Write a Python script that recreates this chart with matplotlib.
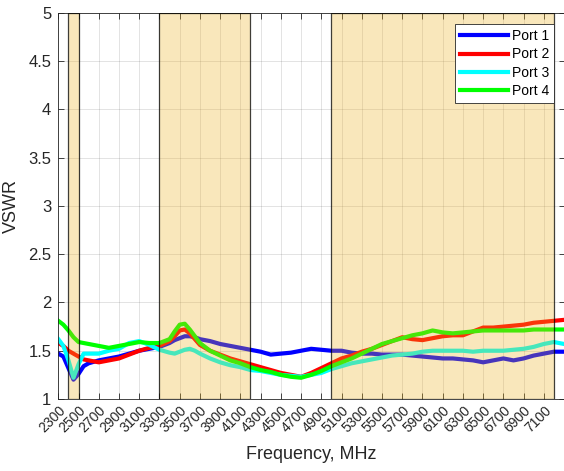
import numpy as np
import matplotlib
matplotlib.use("Agg")
import matplotlib.pyplot as plt
from matplotlib.patches import Rectangle

plt.rcParams['font.family'] = ['Liberation Sans', 'DejaVu Sans']

# frequency points, MHz
freq = [2300, 2350, 2400, 2450, 2500, 2550, 2600, 2700, 2800, 2900, 3000, 3100, 3200,
        3300, 3400, 3450, 3500, 3550, 3600, 3650, 3700, 3800, 3900, 4000, 4100, 4200,
        4300, 4400, 4500, 4600, 4700, 4800, 4900, 5000, 5100, 5200, 5300, 5400, 5500,
        5600, 5700, 5800, 5900, 6000, 6100, 6200, 6300, 6400, 6500, 6600, 6700, 6800,
        6900, 7000, 7100, 7200, 7300]

port1 = [1.47, 1.44, 1.32, 1.20, 1.26, 1.34, 1.37, 1.40, 1.42, 1.44, 1.47, 1.50, 1.52,
         1.54, 1.58, 1.61, 1.63, 1.65, 1.65, 1.64, 1.62, 1.60, 1.57, 1.55, 1.53, 1.51,
         1.49, 1.46, 1.47, 1.48, 1.50, 1.52, 1.51, 1.50, 1.50, 1.48, 1.47, 1.47, 1.46,
         1.46, 1.46, 1.45, 1.44, 1.43, 1.42, 1.42, 1.41, 1.40, 1.38, 1.40, 1.42, 1.40,
         1.42, 1.45, 1.47, 1.49, 1.49]

port2 = [1.58, 1.55, 1.50, 1.47, 1.44, 1.41, 1.40, 1.38, 1.40, 1.42, 1.46, 1.50, 1.53,
         1.55, 1.60, 1.65, 1.71, 1.72, 1.68, 1.62, 1.56, 1.50, 1.46, 1.42, 1.39, 1.36,
         1.33, 1.30, 1.27, 1.25, 1.23, 1.27, 1.32, 1.37, 1.42, 1.45, 1.49, 1.52, 1.56,
         1.60, 1.64, 1.62, 1.61, 1.63, 1.65, 1.66, 1.66, 1.70, 1.74, 1.74, 1.75, 1.76,
         1.77, 1.79, 1.80, 1.81, 1.82]

port3 = [1.62, 1.55, 1.40, 1.22, 1.36, 1.47, 1.47, 1.47, 1.50, 1.52, 1.58, 1.60, 1.56,
         1.51, 1.48, 1.47, 1.49, 1.51, 1.52, 1.50, 1.47, 1.42, 1.38, 1.35, 1.33, 1.30,
         1.29, 1.27, 1.25, 1.24, 1.23, 1.25, 1.27, 1.31, 1.34, 1.37, 1.39, 1.41, 1.43,
         1.45, 1.46, 1.47, 1.49, 1.50, 1.50, 1.50, 1.50, 1.49, 1.50, 1.50, 1.50, 1.51,
         1.52, 1.54, 1.57, 1.59, 1.57]

port4 = [1.81, 1.77, 1.71, 1.64, 1.59, 1.58, 1.57, 1.55, 1.53, 1.55, 1.57, 1.59, 1.58,
         1.58, 1.62, 1.70, 1.77, 1.78, 1.72, 1.65, 1.58, 1.50, 1.45, 1.40, 1.37, 1.33,
         1.30, 1.28, 1.25, 1.23, 1.22, 1.25, 1.29, 1.34, 1.38, 1.42, 1.47, 1.52, 1.57,
         1.60, 1.63, 1.66, 1.68, 1.71, 1.69, 1.68, 1.69, 1.70, 1.71, 1.71, 1.71, 1.71,
         1.71, 1.72, 1.72, 1.72, 1.72]

# highlighted bands, MHz
bands = [(2400, 2500), (3300, 4200), (5000, 7200)]

xticks = list(range(2300, 7101, 200))
yticks = [1, 1.5, 2, 2.5, 3, 3.5, 4, 4.5, 5]

fig = plt.figure(figsize=(5.64, 4.71), dpi=100)
# the right edge of the box sits just outside the picture, as in the source
ax = fig.add_axes([0.1034, 0.1529, 0.8985, 0.8195])

ax.plot(freq, port1, color='#0000ff', lw=3, label='Port 1')
ax.plot(freq, port2, color='#ff0000', lw=3, label='Port 2')
ax.plot(freq, port3, color='#00ffff', lw=3, label='Port 3')
ax.plot(freq, port4, color='#00ff00', lw=3, label='Port 4')

# MATLAB-style translucent patches drawn over the traces
for lo, hi in bands:
    ax.add_patch(Rectangle((lo, 1), hi - lo, 4, facecolor=(0.929, 0.694, 0.125, 0.3),
                           edgecolor=(0, 0, 0, 0.75), lw=0.9, zorder=3))

ax.set_xlim(2300, 7310)
ax.set_ylim(1, 5)
ax.set_xticks(xticks)
ax.set_xticklabels([str(x) for x in xticks], rotation=45, ha='right',
                   rotation_mode='anchor', fontsize=10)
ax.set_yticks(yticks)
ax.set_yticklabels(['1', '1.5', '2', '2.5', '3', '3.5', '4', '4.5', '5'], fontsize=12)
ax.tick_params(direction='in', top=True, right=True, colors='#262626',
               length=4, width=0.6)
ax.tick_params(axis='y', pad=5)
ax.tick_params(axis='x', pad=3)
ax.grid(True, color='#262626', alpha=0.15, lw=0.6)
for s in ax.spines.values():
    s.set_color('#262626')
    s.set_linewidth(0.6)

ax.set_xlabel('Frequency, MHz', fontsize=13, color='#262626', labelpad=8)
ax.set_ylabel('VSWR', fontsize=13, color='#262626', labelpad=6)

leg = ax.legend(loc='upper right', fontsize=10, handlelength=3.4, fancybox=False,
                framealpha=1, edgecolor='#262626', borderpad=0.35, labelspacing=0.32,
                handletextpad=0.3, borderaxespad=0.8)
leg.get_frame().set_linewidth(0.6)
leg.set_zorder(10)

fig.savefig('out.png', dpi=100)
